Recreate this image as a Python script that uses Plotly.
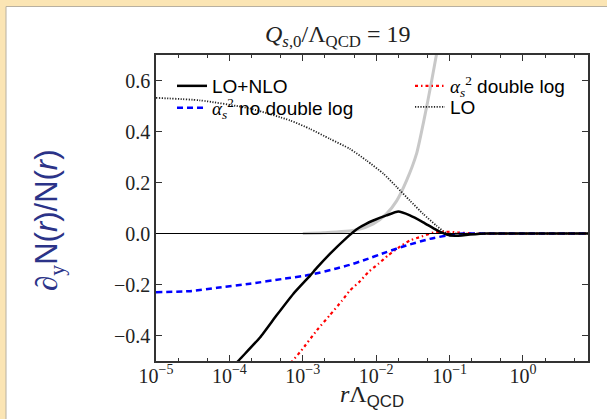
import plotly.graph_objects as go

# ---- data (x = r*Lambda_QCD, y = d_y N / N) ----
r_nlo = [1.0e-4, 1.32e-4, 2.63e-4, 4.37e-4, 7.41e-4, 1.26e-3, 1.55e-3, 2.34e-3, 3.98e-3,
         5.37e-3, 7.08e-3, 9.12e-3, 1.38e-2, 2.0e-2, 2.88e-2, 4.37e-2, 6.61e-2, 9.12e-2,
         0.117, 0.19, 0.32, 7.7]
y_nlo = [-0.54, -0.50, -0.407, -0.322, -0.237, -0.165, -0.135, -0.08, -0.016,
         0.016, 0.036, 0.051, 0.071, 0.086, 0.071, 0.044, 0.014, -0.004,
         -0.009, -0.004, 0.0, 0.0]

r_nodl = [1.0e-5, 2.88e-5, 6.76e-5, 1.91e-4, 5.37e-4, 1.26e-3, 2.88e-3, 4.37e-3, 6.61e-3,
          1.38e-2, 2.57e-2, 5.37e-2, 9.12e-2, 0.151, 0.4, 7.7]
y_nodl = [-0.23, -0.226, -0.213, -0.197, -0.178, -0.162, -0.137, -0.123, -0.106,
          -0.073, -0.047, -0.021, -0.008, 0.0, 0.0, 0.0]

r_dl = [5.62e-4, 7.24e-4, 9.55e-4, 1.55e-3, 2.34e-3, 3.39e-3, 4.37e-3, 6.03e-3, 7.76e-3,
        1.07e-2, 1.45e-2, 2.0e-2, 2.88e-2, 4.17e-2, 6.03e-2, 8.71e-2, 0.132, 0.209, 7.7]
y_dl = [-0.54, -0.50, -0.459, -0.38, -0.32, -0.265, -0.224, -0.187, -0.152,
        -0.119, -0.086, -0.056, -0.027, -0.012, 0.004, 0.007, 0.004, 0.0, 0.0]

r_lo = [1.0e-5, 3.98e-5, 1.91e-4, 6.76e-4, 1.26e-3, 2.34e-3, 4.37e-3, 7.41e-3, 1.26e-2,
        1.91e-2, 2.88e-2, 4.37e-2, 6.61e-2, 9.12e-2, 0.126, 7.7]
y_lo = [0.532, 0.522, 0.49, 0.443, 0.41, 0.371, 0.332, 0.286, 0.234,
        0.182, 0.129, 0.077, 0.031, 0.001, 0.0, 0.0]

r_gray = [1.0e-3, 1.91e-3, 5.37e-3, 9.12e-3, 1.38e-2, 1.91e-2, 2.6e-2, 3.55e-2, 4.37e-2,
          5.01e-2, 5.75e-2, 6.61e-2, 7.59e-2]
y_gray = [0.0, 0.003, 0.014, 0.038, 0.077, 0.129, 0.208, 0.313, 0.43,
          0.515, 0.605, 0.70, 0.80]

x_tickvals = [1e-5, 1e-4, 1e-3, 1e-2, 1e-1, 1]
x_ticktext = ["10<sup>−5</sup>", "10<sup>−4</sup>", "10<sup>−3</sup>",
              "10<sup>−2</sup>", "10<sup>−1</sup>", "10<sup>0</sup>"]
y_ticks = [-0.4, -0.2, 0.0, 0.2, 0.4, 0.6]

SERIF = "Liberation Serif"
SANS = "Liberation Sans"
alpha = "<span style=\"font-family:'Liberation Serif'\"><i>α</i><sub><i>s</i></sub><sup>2</sup></span>"

fig = go.Figure()
fig.add_trace(go.Scatter(x=r_gray, y=y_gray, mode="lines", showlegend=False,
                         line=dict(color="#c8c8c8", width=3, shape="spline", smoothing=0.6)))
fig.add_trace(go.Scatter(x=r_lo, y=y_lo, mode="lines", name="LO", legend="legend4",
                         line=dict(color="#222222", width=1.8, dash="1.2px,1.5px",
                                   shape="spline", smoothing=0.6)))
fig.add_trace(go.Scatter(x=r_dl, y=y_dl, mode="lines", name=alpha + " double log", legend="legend3",
                         line=dict(color="#ff0000", width=2.2, dash="3px,3px,1.5px,3px",
                                   shape="spline", smoothing=0.5)))
fig.add_trace(go.Scatter(x=r_nodl, y=y_nodl, mode="lines", name=alpha + " no double log", legend="legend2",
                         line=dict(color="#0000ff", width=2.5, dash="6px,4px",
                                   shape="spline", smoothing=0.5)))
fig.add_trace(go.Scatter(x=r_nlo, y=y_nlo, mode="lines", name="LO+NLO", legend="legend",
                         line=dict(color="#000000", width=2.5, shape="spline", smoothing=0.4)))

fig.add_hline(y=0, line=dict(color="black", width=1))

# pixel -> paper helpers (plot area 156..588 x 55..361)
X = lambda px: (px - 156) / 432
Y = lambda py: (361 - py) / 306

# white panel with beige frame on top/left
fig.add_shape(type="rect", xref="paper", yref="paper", x0=X(6), x1=X(640), y0=Y(460), y1=Y(6.5),
              fillcolor="white", line=dict(color="#b8b0a0", width=1), layer="below")

def leg(px, py):
    return dict(x=X(px), y=Y(py), xanchor="left", yanchor="middle", bgcolor="rgba(0,0,0,0)",
                font=dict(family=SANS, size=19, color="black"), itemwidth=30)

fig.update_layout(
    width=607, height=419,
    margin=dict(l=156, r=19, t=55, b=58, autoexpand=False),
    paper_bgcolor="#fbe5b4", plot_bgcolor="white",
    font=dict(family=SERIF, size=18, color="#222222"),
    legend=leg(172, 86),
    legend2=leg(172, 108),
    legend3=leg(410, 86),
    legend4=leg(410, 107),
    xaxis=dict(type="log", range=[-5, 0.886], tickvals=x_tickvals, ticktext=x_ticktext,
               automargin=False, ticklabelstandoff=-4,
               showgrid=False, zeroline=False, showline=True, linecolor="#333", linewidth=1.5,
               mirror="allticks", ticks="inside", ticklen=6, tickcolor="#333",
               minor=dict(ticks="inside", ticklen=3, tickcolor="#333", showgrid=False),
               tickfont=dict(family=SERIF, size=20, color="#222")),
    yaxis=dict(range=[-0.5, 0.7], tickvals=y_ticks, tickformat=".1f", automargin=False,
               showgrid=False, zeroline=False, showline=True, linecolor="#333", linewidth=1.5,
               mirror="allticks", ticks="inside", ticklen=6, tickcolor="#333",
               tickfont=dict(family=SERIF, size=20, color="#222")),
    annotations=[
        dict(text="<i>Q</i><sub><i>s</i>,0</sub>/Λ<sub>QCD</sub> = 19", xref="paper", yref="paper",
             x=X(338), y=Y(36), xanchor="center", yanchor="middle", showarrow=False,
             font=dict(family=SERIF, size=24, color="#222")),
        dict(text="<i>r</i>Λ<sub><span style=\"font-family:'Liberation Sans'\">QCD</span></sub>",
             xref="paper", yref="paper", x=X(372), y=Y(396), xanchor="center", yanchor="middle",
             showarrow=False, font=dict(family=SERIF, size=24, color="#222")),
        dict(text="∂<sub>y</sub><span style=\"font-family:'Liberation Sans'\">N(<i>r</i>)/N(<i>r</i>)</span>",
             xref="paper", yref="paper", x=X(49), y=Y(220), xanchor="center", yanchor="middle",
             showarrow=False, textangle=-90,
             font=dict(family=SERIF, size=31, color="#2b3388")),
    ],
)

fig.write_html("out.html", config={"displayModeBar": False},
               post_script="document.body.style.margin='0';")
